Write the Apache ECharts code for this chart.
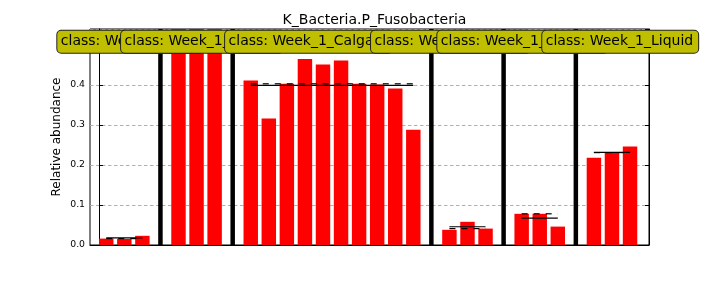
<!DOCTYPE html>
<html><head><meta charset="utf-8">
<script src="https://cdn.jsdelivr.net/npm/echarts@6/dist/echarts.min.js"></script>
<style>html,body{margin:0;padding:0;background:#fff}#c{width:720px;height:288px}</style>
</head><body><div id="c"></div>
<script>
// ---- data ----
const chartTitle = 'K_Bacteria.P_Fusobacteria';
const yAxisName = 'Relative abundance';
const yTickLabels = ['0.0', '0.1', '0.2', '0.3', '0.4', '0.5'];
const classNames = ['Week_1_Agar', 'Week_1_Biofilm', 'Week_1_Calgary', 'Week_1_Frozen', 'Week_1_Hospital', 'Week_1_Liquid'];
const valuesG1 = [0.016, 0.015, 0.023];
const valuesG2 = [0.60, 0.60, 0.60];
const valuesG3 = [0.411, 0.316, 0.403, 0.465, 0.451, 0.461, 0.403, 0.401, 0.391, 0.288];
const valuesG4 = [0.038, 0.058, 0.041];
const valuesG5 = [0.078, 0.078, 0.046];
const valuesG6 = [0.218, 0.231, 0.246];
const groups = [valuesG1, valuesG2, valuesG3, valuesG4, valuesG5, valuesG6];

// ---- layout (not data) ----
const Y_MAX = 0.54;
const X_MIN = -0.5, X_MAX = 30.45;
const BAR_W = 0.8;
const LABEL_LEFT = [-2.31, 1.22, 6.98, 15.06, 18.73, 24.54]; // x (axis units) of label box left edge
const LABEL_Y = 0.508;

// ---- derived ----
const barData = [], sepData = [], statData = [], tickXs = [];
let pos = 0;
groups.forEach((vals, gi) => {
  const start = pos;
  vals.forEach((v, i) => barData.push([start + i + BAR_W / 2, v]));
  const end = start + vals.length;
  const mean = vals.reduce((a, b) => a + b, 0) / vals.length;
  const s = vals.slice().sort((a, b) => a - b);
  const n = s.length;
  const median = n % 2 ? s[(n - 1) / 2] : (s[n / 2 - 1] + s[n / 2]) / 2;
  statData.push([start + BAR_W / 2, end - 1 + BAR_W / 2, mean, median]);
  tickXs.push(start + Math.floor(n / 2) + BAR_W / 2);
  if (gi < groups.length - 1) sepData.push([end + 0.4]);
  pos = end + 1;
});
const labelData = classNames.map((c, i) => [LABEL_LEFT[i], LABEL_Y, 'class: ' + c]);

const FONT = 'DejaVu Sans';
const chart = echarts.init(document.getElementById('c'), null, {renderer: 'canvas'});

function clampY(y, cs) { return Math.min(Math.max(y, cs.y), cs.y + cs.height); }

chart.setOption({
  animation: false,
  backgroundColor: '#fff',
  title: {
    text: chartTitle, left: 369.5, top: 8, textAlign: 'center',
    textStyle: {fontFamily: FONT, fontSize: 14, fontWeight: 'normal', color: '#000'}
  },
  grid: {left: 90, right: 71, top: 29, bottom: 43, show: true, borderColor: '#000', borderWidth: 1, backgroundColor: 'transparent'},
  xAxis: {
    type: 'value', min: X_MIN, max: X_MAX,
    axisLine: {show: true, onZero: false, lineStyle: {color: '#000', width: 1}},
    axisTick: {show: true, inside: true, length: 4, customValues: tickXs, lineStyle: {color: '#000'}},
    axisLabel: {show: false},
    splitLine: {show: false}
  },
  yAxis: [{
    type: 'value', min: 0, max: Y_MAX, interval: 0.1, position: 'left',
    name: yAxisName, nameLocation: 'middle', nameGap: 27, nameMoveOverlap: false,
    nameTextStyle: {fontFamily: FONT, fontSize: 12, color: '#000'},
    axisLine: {show: true, lineStyle: {color: '#000', width: 1}},
    axisTick: {show: true, inside: true, length: 4, lineStyle: {color: '#000'}},
    axisLabel: {fontFamily: FONT, fontSize: 9.3, color: '#000', margin: 5, showMaxLabel: false,
      formatter: v => { const k = Math.round(v * 10); return Math.abs(v * 10 - k) < 1e-6 ? (yTickLabels[k] || '') : ''; }},
    splitLine: {show: true, lineStyle: {color: '#b0b0b0', width: 1, type: [3.5, 2.5]}}
  }, {
    type: 'value', min: 0, max: Y_MAX, interval: 0.1, position: 'right',
    axisLine: {show: true, lineStyle: {color: '#000', width: 1}},
    axisTick: {show: true, inside: true, length: 4, lineStyle: {color: '#000'}},
    axisLabel: {show: false}, splitLine: {show: false}
  }],
  series: [
    {
      type: 'custom', name: 'bars', data: barData, z: 2,
      renderItem: (params, api) => {
        const cs = params.coordSys;
        const x = api.value(0), v = api.value(1);
        const p0 = api.coord([x - BAR_W / 2, 0]);
        const p1 = api.coord([x + BAR_W / 2, v]);
        const top = clampY(p1[1], cs);
        return {type: 'rect', shape: {x: p0[0], y: top, width: p1[0] - p0[0], height: p0[1] - top},
          style: {fill: '#ff0000'}};
      }
    },
    {
      type: 'custom', name: 'separators', data: sepData, z: 3,
      renderItem: (params, api) => {
        const a = api.coord([api.value(0), 0]);
        const b = api.coord([api.value(0), Y_MAX]);
        return {type: 'line', shape: {x1: a[0], y1: a[1], x2: b[0], y2: b[1]},
          style: {stroke: '#000', lineWidth: 4.5}};
      }
    },
    {
      type: 'custom', name: 'stats', data: statData, z: 4,
      renderItem: (params, api) => {
        const x0 = api.value(0), x1 = api.value(1), mean = api.value(2), med = api.value(3);
        const children = [];
        if (med <= Y_MAX) {
          const a = api.coord([x0, med]), b = api.coord([x1, med]);
          children.push({type: 'line', shape: {x1: a[0], y1: a[1], x2: b[0], y2: b[1]},
            style: {stroke: '#000', lineWidth: 1.2, lineDash: [6, 6]}});
        }
        if (mean <= Y_MAX) {
          const a = api.coord([x0, mean]), b = api.coord([x1, mean]);
          children.push({type: 'line', shape: {x1: a[0], y1: a[1], x2: b[0], y2: b[1]},
            style: {stroke: '#000', lineWidth: 1.2}});
        }
        return {type: 'group', children};
      }
    },
    {
      type: 'custom', name: 'labels', data: labelData, z: 10,
      renderItem: (params, api) => {
        const p = api.coord([api.value(0), api.value(1)]);
        return {type: 'text', z2: params.dataIndex + 1, x: p[0], y: p[1],
          style: {text: labelData[params.dataIndex][2], fontFamily: FONT, fontSize: 14, fill: '#000',
            align: 'left', verticalAlign: 'middle', lineHeight: 16,
            backgroundColor: '#bfbf00', borderColor: '#222', borderWidth: 1, borderRadius: 4,
            padding: [3, 5, 3, 3.5]}};
      }
    }
  ]
});
</script></body></html>
